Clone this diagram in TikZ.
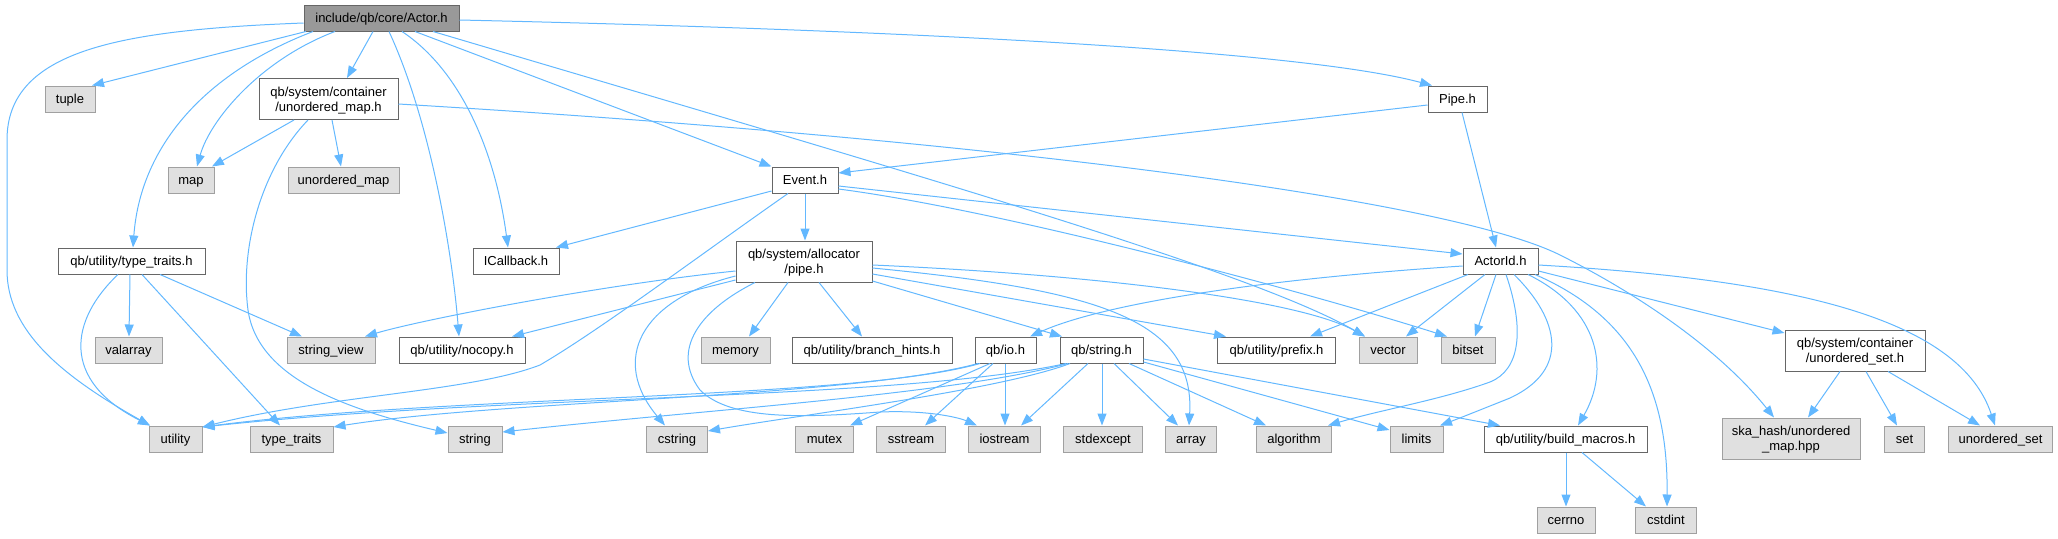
\documentclass[tikz,border=0pt]{standalone}
\usepackage{fontspec}
\setmainfont{Liberation Sans}
\usetikzlibrary{arrows.meta,calc}
\definecolor{edgec}{HTML}{63B8FF}
\definecolor{hdrborder}{HTML}{666666}
\definecolor{extborder}{HTML}{A0A0A0}
\definecolor{extfill}{HTML}{E0E0E0}
\definecolor{rootfill}{HTML}{999999}
\tikzset{
  hdr/.style={draw=hdrborder, line width=1pt, fill=white, inner sep=0pt, minimum height=26pt,
    font={\fontsize{13pt}{15pt}\selectfont}, text=black, text height=9.5pt, text depth=0pt},
  sys/.style={hdr, draw=extborder, fill=extfill},
  rooth/.style={hdr, fill=rootfill},
  twol/.style={align=center, minimum height=41pt, text height=24.5pt, text depth=0pt},
  incl/.style={draw=edgec, line width=1pt, line join=round, -{Triangle[length=12pt,width=9pt]}},
}
\begin{document}
\begin{tikzpicture}[x=1pt,y=-1pt]
\useasboundingbox (0,0) rectangle (2058,538);
% nodes
\node[rooth, minimum width=155pt] (actor) at (381.5,18) {include/qb/core/Actor.h};
\node[sys, minimum width=50pt] (tuple) at (70,99) {tuple};
\node[hdr, twol, minimum width=139pt] (umaph) at (328.5,99) {qb/system/container\\/unordered\_map.h};
\node[sys, minimum width=46pt] (map) at (191,180) {map};
\node[sys, minimum width=111pt] (umap) at (343.5,180) {unordered\_map};
\node[hdr, minimum width=66pt] (event) at (805,180) {Event.h};
\node[hdr, minimum width=59pt] (pipeh) at (1457.5,99) {Pipe.h};
\node[hdr, minimum width=147pt] (ttraitsh) at (131.5,261) {qb/utility/type\_traits.h};
\node[hdr, minimum width=86pt] (icb) at (516,261) {ICallback.h};
\node[hdr, twol, minimum width=136pt] (apipe) at (804,261.5) {qb/system/allocator\\/pipe.h};
\node[hdr, minimum width=75pt] (actorid) at (1500.5,261) {ActorId.h};
\node[sys, minimum width=67pt] (valarray) at (128.5,350) {valarray};
\node[sys, minimum width=88pt] (sview) at (331,350) {string\_view};
\node[hdr, minimum width=126pt] (nocopy) at (462,350) {qb/utility/nocopy.h};
\node[sys, minimum width=69pt] (memory) at (735.5,350) {memory};
\node[hdr, minimum width=160pt] (bhints) at (872,350) {qb/utility/branch\_hints.h};
\node[hdr, minimum width=61pt] (ioh) at (1005.5,350) {qb/io.h};
\node[hdr, minimum width=83pt] (strh) at (1101.5,350) {qb/string.h};
\node[hdr, minimum width=118pt] (prefix) at (1276.5,350) {qb/utility/prefix.h};
\node[sys, minimum width=58pt] (vector) at (1388,350) {vector};
\node[sys, minimum width=54pt] (bitset) at (1468,350) {bitset};
\node[hdr, twol, minimum width=140pt] (usetph) at (1855,350.5) {qb/system/container\\/unordered\_set.h};
\node[sys, minimum width=53pt] (utility) at (175.5,439) {utility};
\node[sys, minimum width=83pt] (ttraits) at (291.5,439) {type\_traits};
\node[sys, minimum width=54pt] (string) at (475,439) {string};
\node[sys, minimum width=61pt] (cstring) at (677,439) {cstring};
\node[sys, minimum width=58pt] (mutex) at (824.5,439) {mutex};
\node[sys, minimum width=69pt] (sstream) at (911,439) {sstream};
\node[sys, minimum width=72pt] (iostream) at (1004.5,439) {iostream};
\node[sys, minimum width=79pt] (stdexcept) at (1103,439) {stdexcept};
\node[sys, minimum width=51pt] (array) at (1191,439) {array};
\node[sys, minimum width=75pt] (algorithm) at (1294,439) {algorithm};
\node[sys, minimum width=53pt] (limits) at (1416.5,439) {limits};
\node[hdr, minimum width=163pt] (bmacros) at (1565.5,439) {qb/utility/build\_macros.h};
\node[sys, twol, minimum width=138pt] (ska) at (1791,438.5) {ska\_hash/unordered\\\_map.hpp};
\node[sys, minimum width=40pt] (set) at (1904.5,439) {set};
\node[sys, minimum width=104pt] (uset) at (2000.5,439) {unordered\_set};
\node[sys, minimum width=58pt] (cerrno) at (1566,520) {cerrno};
\node[sys, minimum width=61pt] (cstdint) at (1666,520) {cstdint};
% edges from Actor.h
\draw[incl] (actor.south -| 306,0) -- (tuple.north -| 92,0);
\draw[incl] (actor.south -| 313,0) .. controls (200,75) and (140,150) .. (ttraitsh.north -| 133,0);
\draw[incl] (actor.south -| 335,0) .. controls (260,60) and (210,120) .. (map.north -| 197,0);
\draw[incl] (actor.south -| 373,0) -- (umaph.north -| 347,0);
\draw[incl] (actor.south -| 389,0) .. controls (430,120) and (452,250) .. (nocopy.north -| 459,0);
\draw[incl] (actor.south -| 402,0) .. controls (460,70) and (495,150) .. (icb.north -| 508,0);
\draw[incl] (actor.south -| 415,0) -- (event.north west);
\draw[incl] (actor.south -| 433,0) .. controls (900,170) and (1250,270) .. (vector.north -| 1365,0);
\draw[incl] (actor.east |- 0,20) .. controls (900,30) and (1300,50) .. (pipeh.north -| 1432,0);
\draw[incl] (actor.west |- 0,23) .. controls (120,30) and (7,50) .. (7,140) -- (7,270) .. controls (7,330) and (60,375) .. (utility.north -| 150,0);
% unordered_map.h
\draw[incl] (umaph.south -| 294,0) -- (map.north -| 212,0);
\draw[incl] (umaph.south -| 332,0) -- (umap.north -| 341,0);
\draw[incl] (umaph.south -| 308,0) .. controls (260,170) and (240,250) .. (248,310) .. controls (258,380) and (350,410) .. (string.west |- 0,433);
\draw[incl] (umaph.east |- 0,104) .. controls (1000,140) and (1450,200) .. (1560,255) .. controls (1640,295) and (1720,350) .. (ska.north -| 1774,0);
% Event.h
\draw[incl] (event.west |- 0,191) -- (icb.north -| 556,0);
\draw[incl] (event.south -| 805,0) -- (apipe.north -| 805,0);
\draw[incl] (event.south -| 788,0) .. controls (700,255) and (600,330) .. (540,365) .. controls (470,392) and (330,395) .. (utility.east |- 0,427);
\draw[incl] (event.east |- 0,186) -- (actorid.west |- 0,254);
\draw[incl] (event.east |- 0,189) .. controls (1000,210) and (1300,290) .. (bitset.north -| 1447,0);
% Pipe.h
\draw[incl] (pipeh.west |- 0,105) -- (event.east |- 0,173);
\draw[incl] (pipeh.south -| 1462,0) -- (actorid.north -| 1496,0);
% type_traits.h
\draw[incl] (ttraitsh.south -| 118,0) .. controls (70,320) and (60,380) .. (utility.north -| 150,0);
\draw[incl] (ttraitsh.south -| 130,0) -- (valarray.north -| 129,0);
\draw[incl] (ttraitsh.south -| 142,0) -- (ttraits.north -| 280,0);
\draw[incl] (ttraitsh.south -| 160,0) -- (sview.north -| 302,0);
% allocator/pipe.h
\draw[incl] (apipe.west |- 0,271) .. controls (600,285) and (420,320) .. (sview.north -| 365,0);
\draw[incl] (apipe.west |- 0,280) -- (nocopy.north -| 512,0);
\draw[incl] (apipe.west |- 0,276) .. controls (640,300) and (610,360) .. (cstring.north -| 665,0);
\draw[incl] (apipe.south -| 755,0) .. controls (700,310) and (670,350) .. (700,390) .. controls (730,420) and (800,418) .. (880,412) .. controls (930,410) and (960,418) .. (iostream.north -| 977,0);
\draw[incl] (apipe.south -| 788,0) -- (memory.north -| 749,0);
\draw[incl] (apipe.south -| 819,0) -- (bhints.north -| 862,0);
\draw[incl] (apipe.east |- 0,281) -- (strh.north -| 1062,0);
\draw[incl] (apipe.east |- 0,274) -- (prefix.north -| 1226,0);
\draw[incl] (apipe.east |- 0,268) .. controls (1100,290) and (1195,320) .. (array.north -| 1189,0);
\draw[incl] (apipe.east |- 0,265) .. controls (1100,275) and (1300,300) .. (vector.north -| 1365,0);
% ActorId.h
\draw[incl] (actorid.west |- 0,266) .. controls (1250,280) and (1100,305) .. (ioh.north -| 1030,0);
\draw[incl] (actorid.south -| 1468,0) -- (prefix.north -| 1310,0);
\draw[incl] (actorid.south -| 1485,0) -- (vector.north -| 1406,0);
\draw[incl] (actorid.south -| 1496,0) -- (bitset.north -| 1475,0);
\draw[incl] (actorid.south -| 1506,0) .. controls (1525,330) and (1520,370) .. (1490,382) .. controls (1440,400) and (1380,410) .. (algorithm.north -| 1328,0);
\draw[incl] (actorid.south -| 1514,0) .. controls (1560,320) and (1570,370) .. (1510,398) .. controls (1480,410) and (1460,418) .. (limits.north -| 1440,0);
\draw[incl] (actorid.south -| 1528,0) .. controls (1600,310) and (1610,370) .. (bmacros.north -| 1578,0);
\draw[incl] (actorid.south -| 1535,0) .. controls (1640,320) and (1668,400) .. (cstdint.north -| 1667,0);
\draw[incl] (actorid.east |- 0,271) -- (usetph.west |- 0,333);
\draw[incl] (actorid.east |- 0,265) .. controls (1800,280) and (1960,320) .. (uset.north -| 1995,0);
% unordered_set.h
\draw[incl] (usetph.south -| 1840,0) -- (ska.north -| 1808,0);
\draw[incl] (usetph.south -| 1866,0) -- (set.north -| 1897,0);
\draw[incl] (usetph.south -| 1888,0) -- (uset.north -| 1980,0);
% build_macros.h
\draw[incl] (bmacros.south -| 1566,0) -- (cerrno.north -| 1566,0);
\draw[incl] (bmacros.south -| 1582,0) -- (cstdint.north -| 1646,0);
% qb/string.h
\draw[incl] (strh.south -| 1088,0) -- (iostream.north -| 1021,0);
\draw[incl] (strh.south -| 1102,0) -- (stdexcept.north -| 1102,0);
\draw[incl] (strh.south -| 1114,0) -- (array.north -| 1178,0);
\draw[incl] (strh.south -| 1129,0) -- (algorithm.north -| 1266,0);
\draw[incl] (strh.east |- 0,362) -- (limits.west |- 0,430);
\draw[incl] (strh.east |- 0,359) -- (bmacros.north -| 1500,0);
\draw[incl] (strh.south -| 1070,0) .. controls (1000,390) and (800,415) .. (cstring.east |- 0,431);
\draw[incl] (strh.south -| 1068,0) .. controls (950,395) and (700,410) .. (string.east |- 0,432);
\draw[incl] (strh.south -| 1066,0) .. controls (900,400) and (500,395) .. (utility.east |- 0,427);
% qb/io.h
\draw[incl] (ioh.south -| 990,0) -- (mutex.north -| 850,0);
\draw[incl] (ioh.south -| 993,0) -- (sstream.north -| 925,0);
\draw[incl] (ioh.south -| 1005,0) -- (iostream.north -| 1005,0);
\draw[incl] (ioh.south -| 980,0) .. controls (850,400) and (450,395) .. (utility.east |- 0,427);
\draw[incl] (ioh.south -| 978,0) .. controls (850,398) and (500,400) .. (ttraits.east |- 0,427);
\end{tikzpicture}
\end{document}
